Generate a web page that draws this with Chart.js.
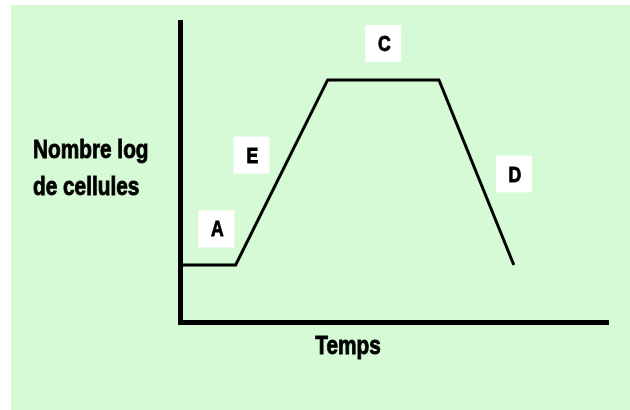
<!DOCTYPE html>
<html>
<head>
<meta charset="utf-8">
<script src="https://cdn.jsdelivr.net/npm/chart.js@4.4.0/dist/chart.umd.min.js"></script>
<style>
  html, body { margin: 0; padding: 0; background: #fff; }
  #wrap { width: 630px; height: 410px; position: relative; }
</style>
</head>
<body>
<div id="wrap"><canvas id="growth" width="630" height="410"></canvas></div>
<script>
// growth curve: time vs log(number of cells), arbitrary units
const time = [0, 13, 34.5, 60.5, 78];
const logCells = [19, 19, 80.7, 80.7, 19];

// phase letters and where they sit (data units)
const phaseLabels = ['A', 'E', 'C', 'D'];
const phaseX = [8.5, 16.7, 47.5, 78];
const phaseY = [31.2, 55.8, 93, 49.5];

const yTitle = ['Nombre log', 'de cellules'];
const xTitle = 'Temps';

const FONT = '"Liberation Sans", Arial, sans-serif';
const NARROW = 0.8; // squeeze text to look like a condensed face

// draw text squeezed horizontally, a bit heavier than plain bold
function narrowText(ctx, txt, x, y, align) {
    ctx.save();
    ctx.translate(x, y);
    ctx.scale(NARROW, 1);
    ctx.textAlign = align;
    ctx.lineWidth = 0.9;
    ctx.strokeStyle = '#000';
    ctx.fillText(txt, 0, 0);
    ctx.strokeText(txt, 0, 0);
    ctx.restore();
}

// green panel behind everything
const panelBg = {
    id: 'panelBg',
    beforeDraw(chart) {
        const ctx = chart.ctx;
        ctx.save();
        ctx.fillStyle = '#d5fad5';
        ctx.fillRect(11, 5, chart.width - 11, chart.height - 5);
        ctx.restore();
    }
};

// axis titles + phase boxes
const annotations = {
    id: 'annotations',
    afterDraw(chart) {
        const ctx = chart.ctx;
        const xs = chart.scales.x, ys = chart.scales.y;
        ctx.save();
        ctx.fillStyle = '#000';
        ctx.textBaseline = 'middle';

        ctx.font = 'bold 26px ' + FONT;
        narrowText(ctx, yTitle[0], 33, 151, 'left');
        narrowText(ctx, yTitle[1], 33, 188, 'left');
        narrowText(ctx, xTitle, 348, 347, 'center');

        ctx.font = 'bold 22px ' + FONT;
        phaseLabels.forEach((lab, i) => {
            const px = xs.getPixelForValue(phaseX[i]);
            const py = ys.getPixelForValue(phaseY[i]);
            ctx.fillStyle = '#fff';
            ctx.fillRect(px - 18, py - 18, 36, 37);
            ctx.fillStyle = '#000';
            narrowText(ctx, lab, px + 1, py + 2, 'center');
        });
        ctx.restore();
    }
};

new Chart(document.getElementById('growth'), {
    type: 'line',
    data: {
        datasets: [{
            data: time.map((t, i) => ({ x: t, y: logCells[i] })),
            borderColor: '#000',
            borderWidth: 3,
            pointRadius: 0,
            tension: 0,
            fill: false
        }]
    },
    options: {
        responsive: false,
        animation: false,
        layout: { padding: { left: 180, top: 22, right: 22, bottom: 88 } },
        plugins: { legend: { display: false }, tooltip: { enabled: false } },
        scales: {
            x: {
                type: 'linear', min: 0, max: 100,
                grid: { display: false, drawTicks: false },
                ticks: { display: false },
                border: { display: true, color: '#000', width: 5 }
            },
            y: {
                min: 0, max: 100,
                grid: { display: false, drawTicks: false },
                ticks: { display: false },
                border: { display: true, color: '#000', width: 5 }
            }
        }
    },
    plugins: [panelBg, annotations]
});
</script>
</body>
</html>
